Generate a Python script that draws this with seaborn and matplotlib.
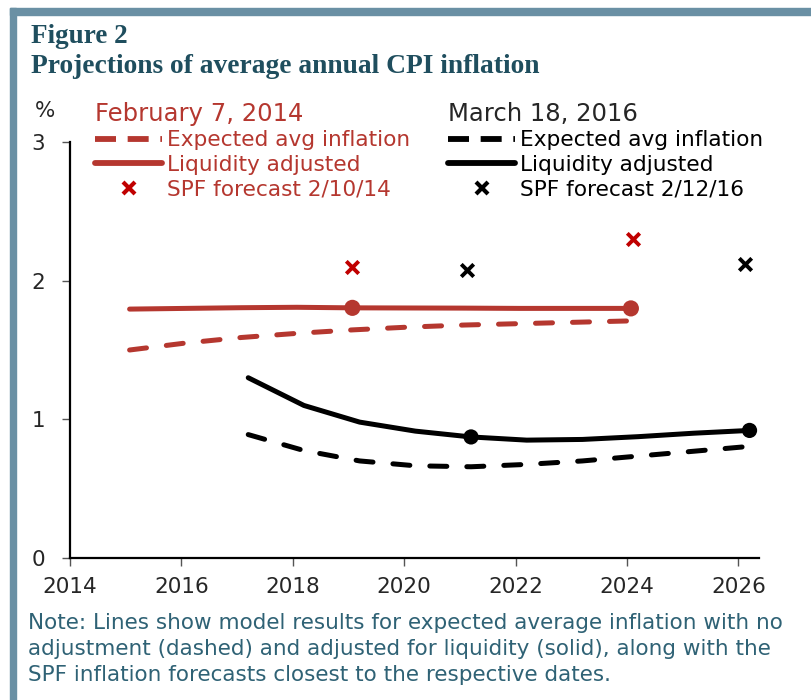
import pandas as pd
import matplotlib.pyplot as plt
import seaborn as sns
from matplotlib.lines import Line2D
from matplotlib.patches import Rectangle

sns.set_style('ticks')
plt.rcParams['font.family'] = ['DejaVu Sans']

# ---- data ----
years_2014 = [2015.07, 2016.07, 2017.07, 2018.07, 2019.07, 2020.07, 2021.07, 2022.07, 2023.07, 2024.07]
exp_2014 = [1.50, 1.55, 1.59, 1.62, 1.645, 1.665, 1.68, 1.69, 1.70, 1.71]
liq_2014 = [1.795, 1.80, 1.805, 1.808, 1.804, 1.803, 1.802, 1.80, 1.80, 1.80]

years_2016 = [2017.2, 2018.2, 2019.2, 2020.2, 2021.2, 2022.2, 2023.2, 2024.2, 2025.2, 2026.2]
exp_2016 = [0.89, 0.775, 0.70, 0.665, 0.658, 0.675, 0.70, 0.735, 0.77, 0.805]
liq_2016 = [1.30, 1.10, 0.98, 0.915, 0.873, 0.85, 0.855, 0.875, 0.90, 0.92]

spf_2014_x = [2019.07, 2024.1]
spf_2014_y = [2.10, 2.30]
spf_2016_x = [2021.12, 2026.12]
spf_2016_y = [2.08, 2.12]

dot_2014_x = [2019.07, 2024.07]
dot_2014_y = [1.804, 1.80]
dot_2016_x = [2021.2, 2026.2]
dot_2016_y = [0.873, 0.92]

RED = '#B5372F'
RED_X = '#C00000'
BLACK = '#000000'
TEAL = '#1F4E5E'
NOTE = '#2F6275'
BORDER = '#6A90A4'

df14 = pd.DataFrame({'year': years_2014, 'exp': exp_2014, 'liq': liq_2014})
df16 = pd.DataFrame({'year': years_2016, 'exp': exp_2016, 'liq': liq_2016})

fig = plt.figure(figsize=(8.12, 7.0), dpi=100)
# axes: x 2014 at px 70, axis end at px 759, y 0 at px 558, y 3 at px 142
ax = fig.add_axes([70 / 812, 1 - 558 / 700, 689 / 812, 416 / 700])

DASH = (0, (3.4, 4.0))
sns.lineplot(data=df14, x='year', y='exp', ax=ax, color=RED, lw=3.6,
             linestyle=DASH, dash_capstyle='round')
sns.lineplot(data=df14, x='year', y='liq', ax=ax, color=RED, lw=3.6,
             solid_capstyle='round')
sns.lineplot(data=df16, x='year', y='exp', ax=ax, color=BLACK, lw=3.6,
             linestyle=DASH, dash_capstyle='round')
sns.lineplot(data=df16, x='year', y='liq', ax=ax, color=BLACK, lw=3.6,
             solid_capstyle='round')

sns.scatterplot(x=dot_2014_x, y=dot_2014_y, ax=ax, color=RED, s=135, edgecolor='none', zorder=5)
sns.scatterplot(x=dot_2016_x, y=dot_2016_y, ax=ax, color=BLACK, s=120, edgecolor='none', zorder=5)
sns.scatterplot(x=spf_2014_x, y=spf_2014_y, ax=ax, color=RED_X, marker='x', s=80,
                linewidth=2.8, zorder=5)
sns.scatterplot(x=spf_2016_x, y=spf_2016_y, ax=ax, color=BLACK, marker='x', s=80,
                linewidth=2.8, zorder=5)

ax.set_xlim(2014, 2026.37)
ax.set_ylim(0, 3)
ax.set_xticks(range(2014, 2027, 2))
ax.set_yticks([0, 1, 2, 3])
ax.set_xlabel('')
ax.set_ylabel('')
ax.tick_params(axis='both', labelsize=15.5, length=6, width=1.0, color='#555555')
ax.tick_params(axis='x', pad=8)
ax.tick_params(axis='y', pad=12)
for s in ['top', 'right']:
    ax.spines[s].set_visible(False)
for s in ['left', 'bottom']:
    ax.spines[s].set_linewidth(1.6)
    ax.spines[s].set_color('black')

# ---- legends ----
def legend_handles(color, xcolor):
    return [
        Line2D([], [], color=color, lw=4.2, linestyle=(0, (3.6, 2.0))),
        Line2D([], [], color=color, lw=4.2, solid_capstyle='round'),
        Line2D([], [], color=xcolor, lw=0, marker='x', markersize=8, markeredgewidth=3),
    ]

leg_kw = dict(loc='upper left', frameon=False, fontsize=15.6, title_fontsize=17.5,
              alignment='left', handlelength=3.1, handletextpad=0.2,
              labelspacing=0.22, borderpad=0, borderaxespad=0)

labels = ['Expected avg inflation', 'Liquidity adjusted', 'SPF forecast 2/10/14']
leg1 = fig.legend(legend_handles(RED, RED_X), labels, bbox_to_anchor=(0.117, 0.855),
                  title='February 7, 2014', labelcolor=RED, **leg_kw)
leg1.get_title().set_color(RED)

labels2 = ['Expected avg inflation', 'Liquidity adjusted', 'SPF forecast 2/12/16']
leg2 = fig.legend(legend_handles(BLACK, BLACK), labels2, bbox_to_anchor=(0.552, 0.855),
                  title='March 18, 2016', labelcolor=BLACK, **leg_kw)

# ---- titles and notes ----
fig.text(0.038, 0.948, 'Figure 2', fontsize=19.5, fontweight='bold', color=TEAL,
         family='Liberation Serif', va='center')
fig.text(0.038, 0.905, 'Projections of average annual CPI inflation', fontsize=19.8,
         fontweight='bold', color=TEAL, family='Liberation Serif', va='center')
fig.text(0.043, 0.842, '%', fontsize=15.5, va='center')

note = ('Note: Lines show model results for expected average inflation with no\n'
        'adjustment (dashed) and adjusted for liquidity (solid), along with the\n'
        'SPF inflation forecasts closest to the respective dates.')
fig.text(0.034, 0.073, note, fontsize=15.5, color=NOTE, va='center', linespacing=1.37)

# border bands (top and left)
fig.patches.append(Rectangle((10 / 812, 1 - 15 / 700), 1, 7 / 700, transform=fig.transFigure,
                             color=BORDER, zorder=0))
fig.patches.append(Rectangle((10 / 812, 0), 6 / 812, 1 - 8 / 700, transform=fig.transFigure,
                             color=BORDER, zorder=0))

fig.savefig('out.png', dpi=100)
